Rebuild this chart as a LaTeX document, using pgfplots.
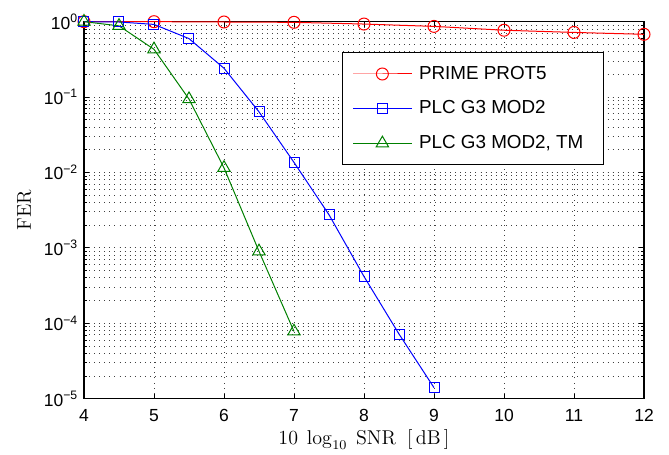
\documentclass[border=0pt]{standalone}
\usepackage[no-math]{fontspec}
\setmainfont{Liberation Sans}
\usepackage{pgfplots}
\pgfplotsset{compat=1.18}

\definecolor{mgreen}{rgb}{0,0.5,0}

\begin{document}
\begin{tikzpicture}
    \begin{semilogyaxis}[
        scale only axis,
        width=336pt,
        height=226.2pt,
        xmin=4, xmax=12,
        ymin=1e-5, ymax=1,
        xtick={4,5,6,7,8,9,10,11,12},
        xticklabels={4,5,6,7,8,9,10,11,12},
        ytick={1e-5,1e-4,1e-3,1e-2,1e-1,1},
        yticklabels={10\textsuperscript{−5},10\textsuperscript{−4},10\textsuperscript{−3},10\textsuperscript{−2},10\textsuperscript{−1},10\textsuperscript{0}},
        tick label style={font=\fontsize{10.5}{12}\selectfont},
        xticklabel style={yshift=-3pt},
        xlabel={\fontsize{12}{15}\selectfont$10\;\log_{10}\;\mathrm{SNR}\;\;[\,\mathrm{dB}\,]$},
        ylabel={\fontsize{12}{15}\selectfont$\mathrm{FER}$},
        every axis x label/.style={at={(axis description cs:0.5,-0.122)}, anchor=base, inner sep=0pt},
        every axis y label/.style={at={(axis description cs:-0.107,0.5)}, rotate=90, anchor=center, inner sep=0pt},
        tick align=inside,
        major tick length=3pt,
        minor tick length=1.8pt,
        axis line style={line width=0.7pt},
        every tick/.style={black, line width=0.5pt},
        xmajorgrids, ymajorgrids, yminorgrids,
        major grid style={black!75, line width=0.55pt, dash pattern=on 0.55pt off 2.5pt},
        minor grid style={black!75, line width=0.55pt, dash pattern=on 0.55pt off 2.5pt},
        clip=false,
        legend cell align=left,
        legend image code/.code={
            \draw[mark repeat=2, mark phase=2] plot coordinates {(0pt,0pt) (17.5pt,0pt) (35pt,0pt)};
        },
        legend style={
            at={(axis description cs:0.9286,0.920)}, anchor=north east,
            draw=black, line width=0.8pt, fill=white,
            font=\fontsize{11.3}{13}\selectfont,
            inner xsep=6pt, inner ysep=2.5pt,
            row sep=0pt,
            nodes={minimum height=20.8pt, inner ysep=0pt, inner xsep=0pt},
            /tikz/every odd column/.append style={column sep=4.2pt},
        },
    ]
        \addplot[red, line width=0.6pt, mark=o, mark size=3.6pt, mark options={solid, draw=red, line width=0.6pt}] coordinates {
            (4,1.0) (5,1.0) (6,0.99) (7,0.98) (8,0.93) (9,0.866) (10,0.77) (11,0.72) (12,0.68)
        };
        \addlegendentry{PRIME PROT5}

        \addplot[blue, line width=0.6pt, mark=square, mark size=3pt, mark options={solid, draw=blue, line width=0.6pt}] coordinates {
            (4,1.0) (4.5,0.99) (5,0.92) (5.5,0.596) (6,0.241) (6.5,0.0637) (7,0.0136)
            (7.5,0.00275) (8,4.17e-4) (8.5,7.2e-5) (9,1.40e-5)
        };
        \addlegendentry{PLC G3 MOD2}

        \addplot[mgreen, line width=0.6pt, mark=triangle, mark size=4.3pt, mark options={solid, draw=mgreen, line width=0.6pt}] coordinates {
            (4,1.0) (4.5,0.88) (5,0.43) (5.5,0.094) (6,0.0115) (6.5,9.0e-4) (7,7.8e-5)
        };
        \addlegendentry{PLC G3 MOD2, TM\hspace*{6pt}}
    \end{semilogyaxis}
    \pgfresetboundingbox
    \path[use as bounding box] ([shift={(-50.4pt,-33.6pt)}]current axis.south west) rectangle ([shift={(15pt,13pt)}]current axis.north east);
\end{tikzpicture}
\end{document}
